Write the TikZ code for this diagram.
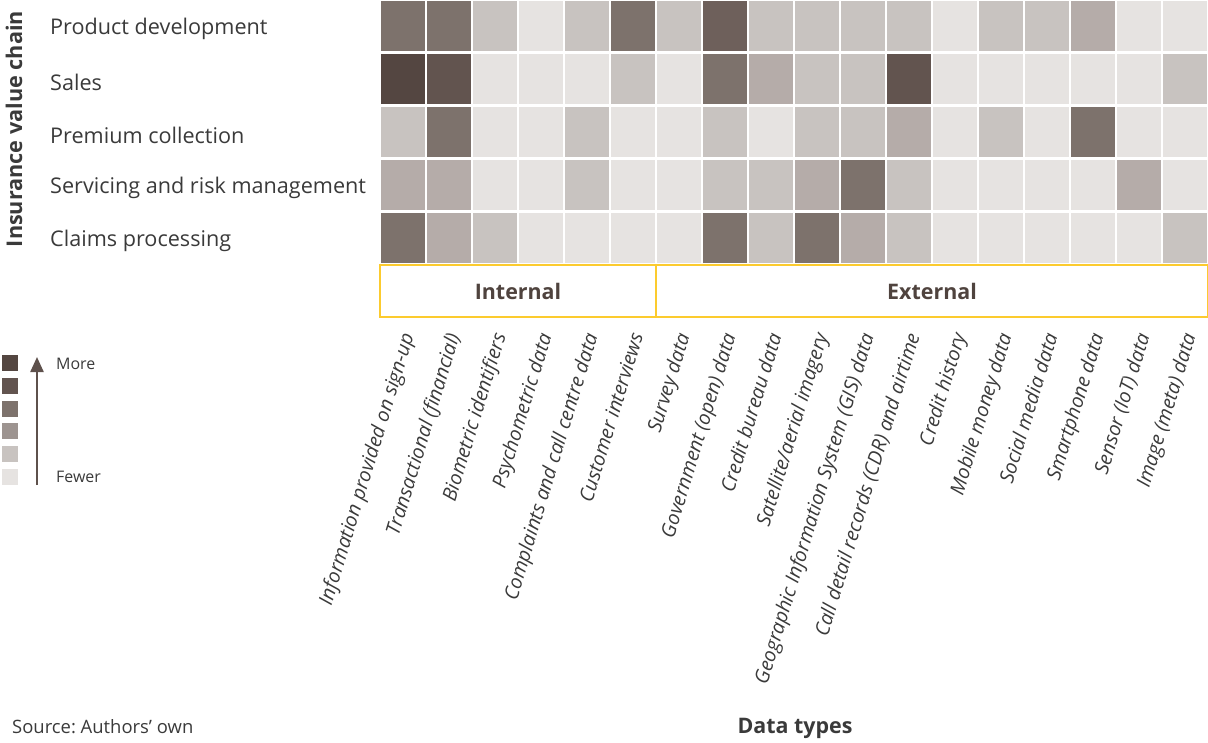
\documentclass[tikz,border=0pt]{standalone}
\usepackage{fontspec}
\setmainfont{Open Sans}
\usetikzlibrary{arrows.meta}
\frenchspacing
\definecolor{lvla}{HTML}{E6E3E1}
\definecolor{lvlb}{HTML}{C8C3C0}
\definecolor{lvlc}{HTML}{B5ACA9}
\definecolor{lvlm}{HTML}{9D9490}
\definecolor{lvld}{HTML}{7D726C}
\definecolor{lvlx}{HTML}{6E605B}
\definecolor{lvle}{HTML}{62544F}
\definecolor{lvlf}{HTML}{544641}
\definecolor{txtgray}{HTML}{3A3A3A}
\definecolor{boxbrown}{HTML}{4F433E}
\definecolor{goldline}{HTML}{FCCB2E}
\definecolor{arrowbrown}{HTML}{5E514C}
\tikzset{
  cellbox/.style={draw=none,inner sep=0pt,minimum width=44bp,minimum height=50.5bp},
  rowlabel/.style={draw=none,inner sep=0pt,anchor=west,text=txtgray,font=\fontsize{21.7}{26}\selectfont},
  collabel/.style={draw=none,inner sep=0pt,anchor=north east,rotate=73,text=txtgray,font=\fontsize{19.8}{23}\selectfont\itshape},
  groupbox/.style={draw=goldline,line width=2.5bp,inner sep=0pt,minimum height=52bp,text=boxbrown,font=\fontsize{21.5}{25}\selectfont\bfseries},
  legsq/.style={draw=none,inner sep=0pt,minimum size=16bp},
  legtext/.style={draw=none,inner sep=0pt,anchor=west,text=txtgray,font=\fontsize{16}{19}\selectfont},
}
\begin{document}
\begin{tikzpicture}[x=1bp,y=-1bp,>=latex]
\useasboundingbox (0,0) rectangle (1208,743);
%% heat map cells
\foreach \row/\vals in {1/{d,d,b,a,b,d,b,x,b,b,b,b,a,b,b,c,a,a},
                        2/{f,e,a,a,a,b,a,d,c,b,b,e,a,a,a,a,a,b},
                        3/{b,d,a,a,b,a,a,b,a,b,b,c,a,b,a,d,a,a},
                        4/{c,c,a,a,b,a,a,b,b,c,d,b,a,a,a,a,c,a},
                        5/{d,c,b,a,a,a,a,d,b,d,c,b,a,a,a,a,a,b}}{
  \foreach \v [count=\col] in \vals
    \node[cellbox,fill=lvl\v] (cell_\row_\col) at ({402.5+46*(\col-1)},{26.2+53*(\row-1)}) {};
}
%% value chain rows
\node (row_1) at (50,29) [rowlabel] {Product development};
\node (row_2) at (50,82) [rowlabel] {Sales};
\node (row_3) at (50,135) [rowlabel] {Premium collection};
\node (row_4) at (50,188) [rowlabel] {Servicing and risk management};
\node (row_5) at (50,241) [rowlabel] {Claims processing};
\node (chain_title) at (14,129) [draw=none,rotate=90,text=txtgray,font=\fontsize{21.7}{26}\selectfont\bfseries] {Insurance value chain};
%% internal / external band
\node (internal) at (518,291) [groupbox,minimum width=276bp] {Internal};
\node (external) at (932,291) [groupbox,minimum width=552bp] {External};
%% data types
\foreach \lab [count=\col] in {Information provided on sign-up,Transactional (financial),Biometric identifiers,
    Psychometric data,Complaints and call centre data,Customer interviews,Survey data,Government (open) data,
    Credit bureau data,Satellite/aerial imagery,Geographic Information System (GIS) data,
    Call detail records (CDR) and airtime,Credit history,Mobile money data,Social media data,
    Smartphone data,Sensor (IoT) data,Image (meta) data}
  \node (type_\col) at ({399.5+46*(\col-1)},331) [collabel] {\lab};
%% legend
\node (lev_6) at (10,363) [legsq,fill=lvlf] {};
\node (lev_5) at (10,385.5) [legsq,fill=lvle] {};
\node (lev_4) at (10,408.5) [legsq,fill=lvld] {};
\node (lev_3) at (10,431) [legsq,fill=lvlm] {};
\node (lev_2) at (10,454) [legsq,fill=lvlb] {};
\node (lev_1) at (10,477) [legsq,fill=lvla] {};
\coordinate (arrow_low) at (37,485);
\coordinate (arrow_high) at (37,357);
\draw [arrowbrown,line width=2.3bp,-{Triangle[width=13bp,length=15bp]}] (arrow_low) -- (arrow_high);
\node (more) at (56,364) [legtext] {More};
\node (fewer) at (56,477) [legtext] {Fewer};
%%
\node (source) at (12,727) [draw=none,inner sep=0pt,anchor=west,text=txtgray,font=\fontsize{18.5}{22}\selectfont] {Source: Authors’ own};
\node (types_title) at (795,728) [draw=none,inner sep=0pt,text=txtgray,font=\fontsize{21.5}{25}\selectfont\bfseries] {Data types};
%
\end{tikzpicture}
\end{document}
